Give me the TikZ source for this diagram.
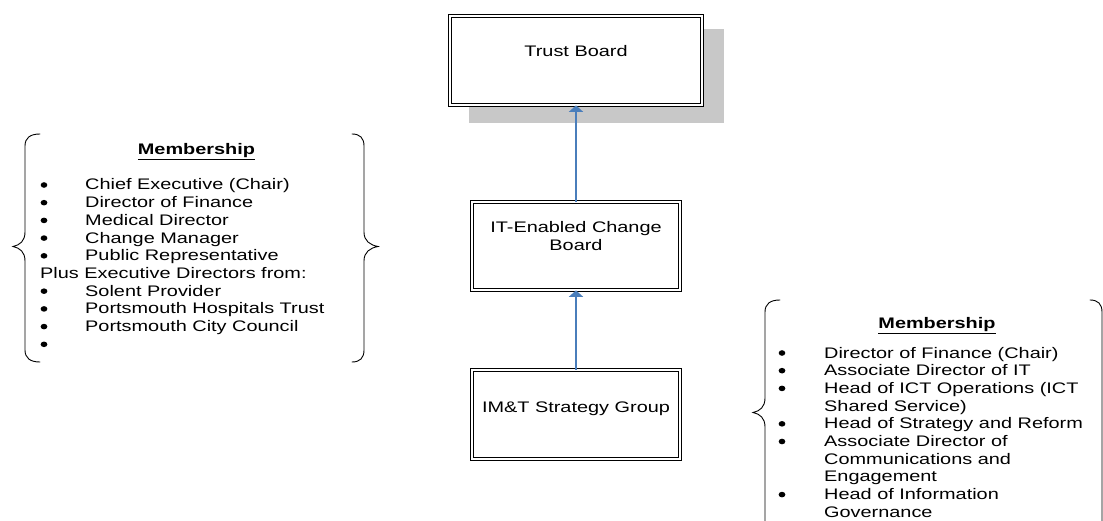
\documentclass[tikz,border=0pt]{standalone}
\usepackage{fontspec}
\setmainfont{Liberation Sans}[FakeStretch=1.3]
\usetikzlibrary{arrows.meta}
\definecolor{linkblue}{RGB}{74,126,187}
\definecolor{shadowgray}{RGB}{200,200,200}
\begin{document}
\begin{tikzpicture}[x=1pt,y=-1pt,
  font=\fontsize{15.3}{17.7}\selectfont,
  boardbox/.style={draw=black, double=white, fill=white, line width=1.1pt,
    double distance=2.2pt, rectangle, inner sep=0pt},
  boxtext/.style={anchor=base, inner sep=0pt, align=center},
  itemtext/.style={anchor=base west, inner sep=0pt},
  dot/.style={circle, fill=black, inner sep=0pt, minimum size=5.6pt, xscale=1.2},
  headtext/.style={anchor=base, inner sep=0pt, font=\fontsize{15.3}{17.7}\selectfont\bfseries},
  uplink/.style={draw=linkblue, line width=1.8pt, -{Triangle[width=14pt,length=6.5pt]}},
  bracepath/.style={draw=black, line width=0.9pt, line cap=round}
]
\useasboundingbox (0,0) rectangle (1103,521);

% drop shadow behind the top box
\fill[shadowgray] (469,29) rectangle (724,123);

% the three boards
\node[boardbox, minimum width=251.6pt, minimum height=88.6pt] (trust) at (576,60.5) {};
\node[boardbox, minimum width=207.6pt, minimum height=87.6pt] (itb) at (576,246) {};
\node[boardbox, minimum width=207.6pt, minimum height=88.6pt] (imt) at (576,414.5) {};

\node[boxtext] (trustT) at (576,57) {Trust Board};
\node[boxtext] (itbT1) at (576,233) {IT-Enabled Change};
\node[boxtext] (itbT2) at (576,250.7) {Board};
\node[boxtext] (imtT) at (576,412) {IM\&T Strategy Group};

% reporting lines
\draw[uplink] (itb.north) -- (trust.south);
\draw[uplink] (imt.north) -- (itb.south);

% braces around the Change Board membership
\draw[bracepath] (40,134) .. controls (30,134) and (25,138) .. (25,146)
  -- (25,232) .. controls (25,241) and (20,245) .. (13,246.5)
  .. controls (20,248) and (25,252) .. (25,261)
  -- (25,350) .. controls (25,358) and (30,362) .. (40,362);
\draw[bracepath] (352,134) .. controls (360,134) and (364,138) .. (364,146)
  -- (364,232) .. controls (364,241) and (370,245) .. (378,246.5)
  .. controls (370,248) and (364,252) .. (364,261)
  -- (364,350) .. controls (364,358) and (360,362) .. (352,362);

% Change Board membership
\node[headtext] (memL) at (196.5,155) {\underline{Membership}};
\node[dot] (bL0) at (44,185) {};
\node[itemtext] (tL0) at (85,190) {Chief Executive (Chair)};
\node[dot] (bL1) at (44,202.7) {};
\node[itemtext] (tL1) at (85,207.7) {Director of Finance};
\node[dot] (bL2) at (44,220.4) {};
\node[itemtext] (tL2) at (85,225.4) {Medical Director};
\node[dot] (bL3) at (44,238.1) {};
\node[itemtext] (tL3) at (85,243.1) {Change Manager};
\node[dot] (bL4) at (44,255.8) {};
\node[itemtext] (tL4) at (85,260.8) {Public Representative};
\node[itemtext] (tL5) at (40,278.5) {Plus Executive Directors from:};
\node[dot] (bL6) at (44,291.2) {};
\node[itemtext] (tL6) at (85,296.2) {Solent Provider};
\node[dot] (bL7) at (44,308.9) {};
\node[itemtext] (tL7) at (85,313.9) {Portsmouth Hospitals Trust};
\node[dot] (bL8) at (44,326.6) {};
\node[itemtext] (tL8) at (85,331.6) {Portsmouth City Council};
\node[dot] (bL9) at (44,344.3) {};

% braces around the Strategy Group membership
\draw[bracepath] (780,300) .. controls (770,300) and (765,304) .. (765,312)
  -- (765,398) .. controls (765,407) and (760,411) .. (753,412.5)
  .. controls (760,414) and (765,418) .. (765,427)
  -- (765,521);
\draw[bracepath] (1090,300) .. controls (1098,300) and (1102,304) .. (1102,312)
  -- (1102,521);

% Strategy Group membership
\node[headtext] (memR) at (937,329) {\underline{Membership}};
\node[dot] (bR0) at (782,353) {};
\node[itemtext] (tR0) at (824,358) {Director of Finance (Chair)};
\node[dot] (bR1) at (782,370.7) {};
\node[itemtext] (tR1) at (824,375.7) {Associate Director of IT};
\node[dot] (bR2) at (782,388.4) {};
\node[itemtext] (tR2) at (824,393.4) {Head of ICT Operations (ICT};
\node[itemtext] (tR3) at (824,411.1) {Shared Service)};
\node[dot] (bR4) at (782,423.8) {};
\node[itemtext] (tR4) at (824,428.8) {Head of Strategy and Reform};
\node[dot] (bR5) at (782,441.5) {};
\node[itemtext] (tR5) at (824,446.5) {Associate Director of};
\node[itemtext] (tR6) at (824,464.2) {Communications and};
\node[itemtext] (tR7) at (824,481.9) {Engagement};
\node[dot] (bR8) at (782,494.6) {};
\node[itemtext] (tR8) at (824,499.6) {Head of Information};
\node[itemtext] (tR9) at (824,517.3) {Governance};
\end{tikzpicture}
\end{document}
